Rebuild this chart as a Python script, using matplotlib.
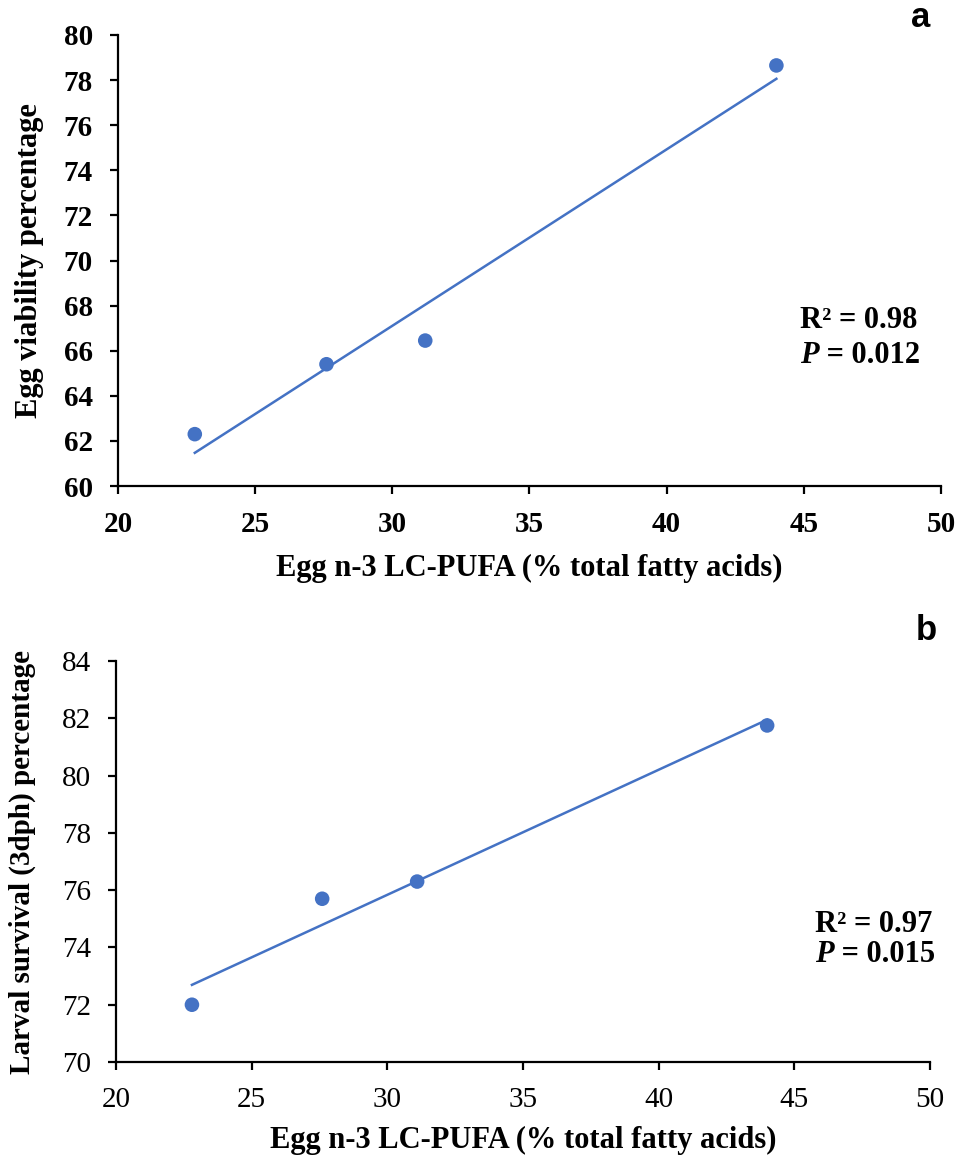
import numpy as np
import matplotlib
matplotlib.use("Agg")
import matplotlib.pyplot as plt

# Egg n-3 LC-PUFA (% total fatty acids)
pufa_a = [22.8, 27.6, 31.2, 44.0]
viability = [62.3, 65.4, 66.45, 78.65]

pufa_b = [22.8, 27.6, 31.1, 44.0]
survival = [72.0, 75.7, 76.3, 81.75]

stats_a = ("0.98", "0.012")
stats_b = ("0.97", "0.015")

blue = "#4472C4"
serif = "Liberation Serif"

fig = plt.figure(figsize=(9.6, 11.55), dpi=100)
ax1 = fig.add_axes([0.1229, 0.5792, 0.8573, 0.3905])
ax2 = fig.add_axes([0.1208, 0.0805, 0.8479, 0.3472])


def draw_panel(ax, x, y, ylim, yticks, ylabel, stats, bold_ticks, txt_pos, ylab_x, xlab_y,
               ylab_size=22):
    ax.scatter(x, y, s=110, color=blue, zorder=3, edgecolors="none")
    slope, icpt = np.polyfit(x, y, 1)
    xx = np.array([min(x), max(x)])
    ax.plot(xx, slope * xx + icpt, color=blue, lw=1.8, zorder=2)

    ax.set_xlim(20, 50)
    ax.set_ylim(*ylim)
    ax.set_xticks(range(20, 51, 5))
    ax.set_yticks(yticks)
    for s in ["top", "right"]:
        ax.spines[s].set_visible(False)
    for s in ["left", "bottom"]:
        ax.spines[s].set_linewidth(1.6)
    ax.tick_params(direction="out", length=6, width=1.6, pad=12)
    wt = "bold" if bold_ticks else "normal"
    for lab in ax.get_xticklabels() + ax.get_yticklabels():
        lab.set_fontfamily(serif)
        lab.set_fontsize(21)
        lab.set_fontweight(wt)

    ax.set_xlabel("Egg n-3 LC-PUFA (% total fatty acids)", fontfamily=serif,
                  fontsize=22, fontweight="bold")
    ax.xaxis.set_label_coords(0.5, xlab_y)
    ax.xaxis.label.set_va("center")
    ax.set_ylabel(ylabel, fontfamily=serif, fontsize=ylab_size, fontweight="bold")
    ax.yaxis.set_label_coords(ylab_x, 0.5)
    ax.yaxis.label.set_va("center")

    tx, ty, ty2 = txt_pos
    ax.text(tx, ty, "R\u00b2 = " + stats[0], transform=ax.transAxes, fontfamily=serif,
            fontsize=22, fontweight="bold", va="center", ha="left")
    p = ax.text(tx, ty2, "P", transform=ax.transAxes, fontfamily=serif, fontsize=22,
                fontweight="bold", style="italic", va="center", ha="left")
    ax.annotate(" = " + stats[1], xy=(1, 0), xycoords=p, va="bottom", ha="left",
                fontfamily=serif, fontsize=22, fontweight="bold")


draw_panel(ax1, pufa_a, viability, (60, 80), range(60, 81, 2), "Egg viability percentage",
           stats_a, True, (0.829, 0.368, 0.29), -0.107, -0.182)
draw_panel(ax2, pufa_b, survival, (70, 84), range(70, 85, 2),
           "Larval survival (3dph) percentage", stats_b, False, (0.859, 0.342, 0.267),
           -0.115, -0.195, ylab_size=21)

fig.text(0.959, 0.985, "a", fontfamily="Liberation Sans", fontsize=25, fontweight="bold",
         ha="center", va="center")
fig.text(0.965, 0.4545, "b", fontfamily="Liberation Sans", fontsize=25, fontweight="bold",
         ha="center", va="center")

fig.savefig("out.png", dpi=100)
